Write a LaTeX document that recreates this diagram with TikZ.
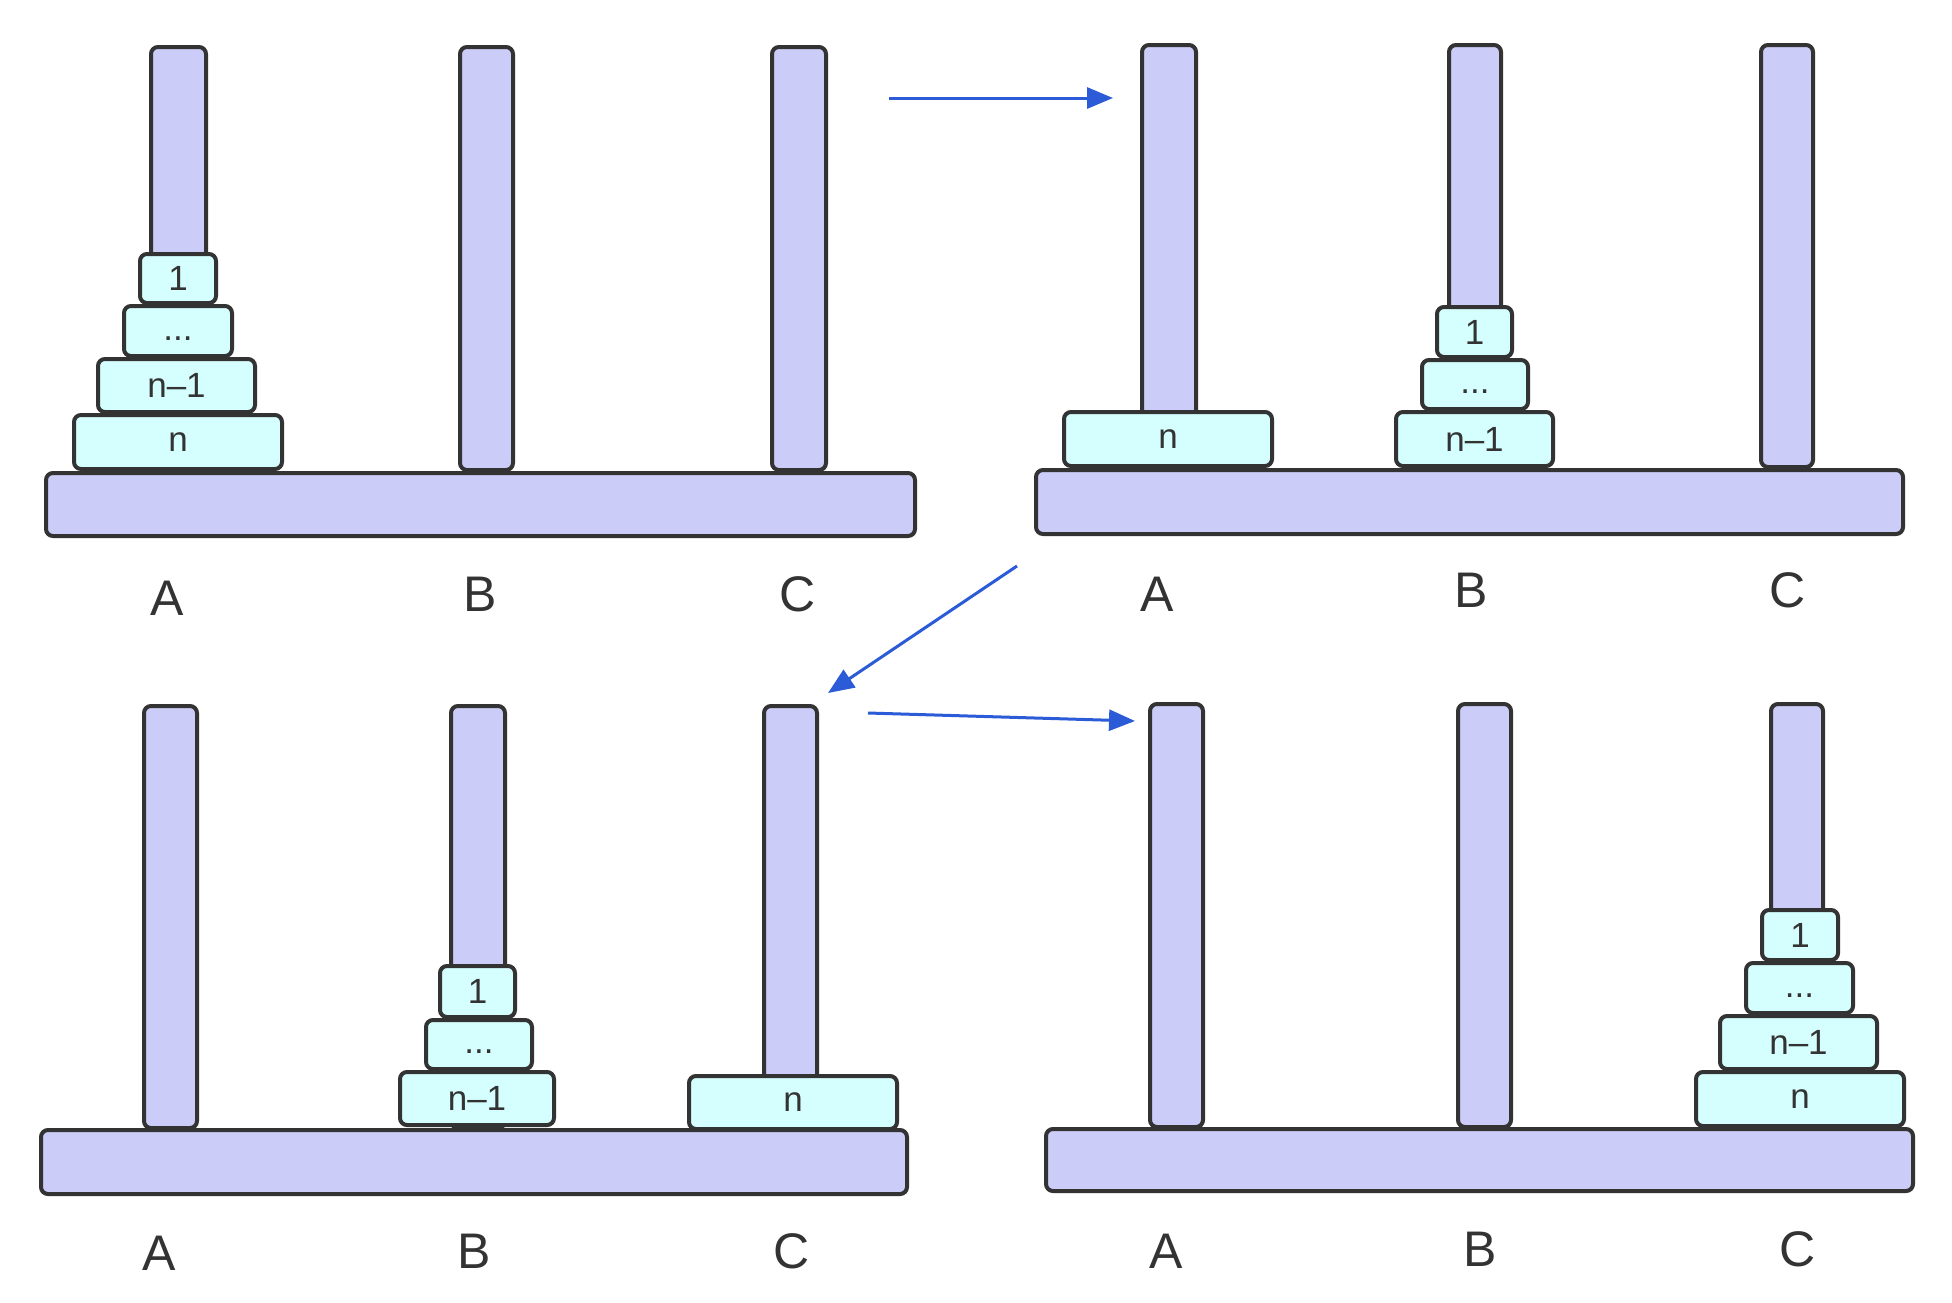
\documentclass[tikz,border=0pt]{standalone}
\usepackage{fontspec}
\setmainfont{Liberation Sans}
\usetikzlibrary{arrows.meta}
\definecolor{edgec}{HTML}{333333}
\definecolor{polec}{HTML}{CCCCF8}
\definecolor{diskc}{HTML}{D4FFFE}
\definecolor{arrc}{HTML}{2B5BD7}
\newcommand\rbox[7]{%
  \pgfmathsetmacro\rbW{#5-#3-4}\pgfmathsetmacro\rbH{#6-#4-4}%
  \node[#2, minimum width=\rbW pt, minimum height=\rbH pt] (#1) at ({(#3+#5)/2},{(#4+#6)/2}) {#7};}
\newcommand\dotsdisk{\vphantom{n}...}
\begin{document}
\begin{tikzpicture}[x=1pt,y=-1pt,
  shapebox/.style={draw=edgec, line width=4pt, rounded corners=7pt, inner sep=0pt, outer sep=0pt, text=edgec},
  polebox/.style={shapebox, fill=polec},
  basebox/.style={shapebox, fill=polec},
  diskbox/.style={shapebox, fill=diskc, font=\fontsize{35}{40}\selectfont},
  lbl/.style={text=edgec, inner sep=0pt, font=\fontsize{50}{56}\selectfont},
  arr/.style={draw=arrc, line width=3pt, -{Triangle[length=26pt,width=21pt]}}]
\fill[white] (0,0) rectangle (1952,1302);
\useasboundingbox (0,0) rectangle (1952,1302);

% ---------- panel 1 ----------
\rbox{pa-base}{basebox}{44}{471}{917}{538}{}
\rbox{pa-A}{polebox}{149}{45}{208}{472}{}
\rbox{pa-B}{polebox}{458}{45}{515}{472}{}
\rbox{pa-C}{polebox}{770}{45}{828}{472}{}
\rbox{pa-d1}{diskbox}{138}{252}{218}{305}{1}
\rbox{pa-d2}{diskbox}{122}{304}{234}{358}{\dotsdisk}
\rbox{pa-d3}{diskbox}{96}{357}{257}{414}{n–1}
\rbox{pa-d4}{diskbox}{72}{413}{284}{471}{n}
\node[lbl] (pa-lA) at (167,598) {A};
\node[lbl] (pa-lB) at (480,594) {B};
\node[lbl] (pa-lC) at (798,594) {C};

% ---------- panel 2 ----------
\rbox{pb-base}{basebox}{1034}{468}{1905}{536}{}
\rbox{pb-A}{polebox}{1140}{43}{1198}{469}{}
\rbox{pb-B}{polebox}{1447}{43}{1503}{469}{}
\rbox{pb-C}{polebox}{1759}{43}{1815}{469}{}
\rbox{pb-d4}{diskbox}{1062}{410}{1274}{468}{n}
\rbox{pb-d1}{diskbox}{1435}{305}{1514}{359}{1}
\rbox{pb-d2}{diskbox}{1420}{358}{1530}{411}{\dotsdisk}
\rbox{pb-d3}{diskbox}{1394}{410}{1555}{468}{n–1}
\node[lbl] (pb-lA) at (1157,594) {A};
\node[lbl] (pb-lB) at (1471,590) {B};
\node[lbl] (pb-lC) at (1788,590) {C};

% ---------- panel 3 ----------
\rbox{pc-base}{basebox}{39}{1128}{909}{1196}{}
\rbox{pc-A}{polebox}{142}{704}{199}{1130}{}
\rbox{pc-B}{polebox}{449}{704}{507}{1130}{}
\rbox{pc-C}{polebox}{762}{704}{819}{1130}{}
\rbox{pc-d1}{diskbox}{438}{964}{517}{1019}{1}
\rbox{pc-d2}{diskbox}{424}{1018}{534}{1071}{\dotsdisk}
\rbox{pc-d3}{diskbox}{398}{1070}{556}{1127}{n–1}
\rbox{pc-d4}{diskbox}{687}{1074}{899}{1131}{n}
\node[lbl] (pc-lA) at (159,1253) {A};
\node[lbl] (pc-lB) at (474,1251) {B};
\node[lbl] (pc-lC) at (792,1251) {C};

% ---------- panel 4 ----------
\rbox{pd-base}{basebox}{1044}{1127}{1915}{1193}{}
\rbox{pd-A}{polebox}{1148}{702}{1205}{1129}{}
\rbox{pd-B}{polebox}{1456}{702}{1513}{1129}{}
\rbox{pd-C}{polebox}{1769}{702}{1825}{1129}{}
\rbox{pd-d1}{diskbox}{1760}{908}{1840}{962}{1}
\rbox{pd-d2}{diskbox}{1744}{961}{1855}{1015}{\dotsdisk}
\rbox{pd-d3}{diskbox}{1718}{1014}{1879}{1071}{n–1}
\rbox{pd-d4}{diskbox}{1694}{1070}{1906}{1128}{n}
\node[lbl] (pd-lA) at (1166,1251) {A};
\node[lbl] (pd-lB) at (1480,1249) {B};
\node[lbl] (pd-lC) at (1798,1249) {C};

% ---------- arrows ----------
\coordinate (a1s) at (889,98);
\coordinate (a1e) at (1113,98);
\coordinate (a2s) at (1017,566);
\coordinate (a2e) at (828,693);
\coordinate (a3s) at (868,713);
\coordinate (a3e) at (1135,721);
\draw[arr] (a1s) -- (a1e);
\draw[arr] (a2s) -- (a2e);
\draw[arr] (a3s) -- (a3e);
\end{tikzpicture}
\end{document}
